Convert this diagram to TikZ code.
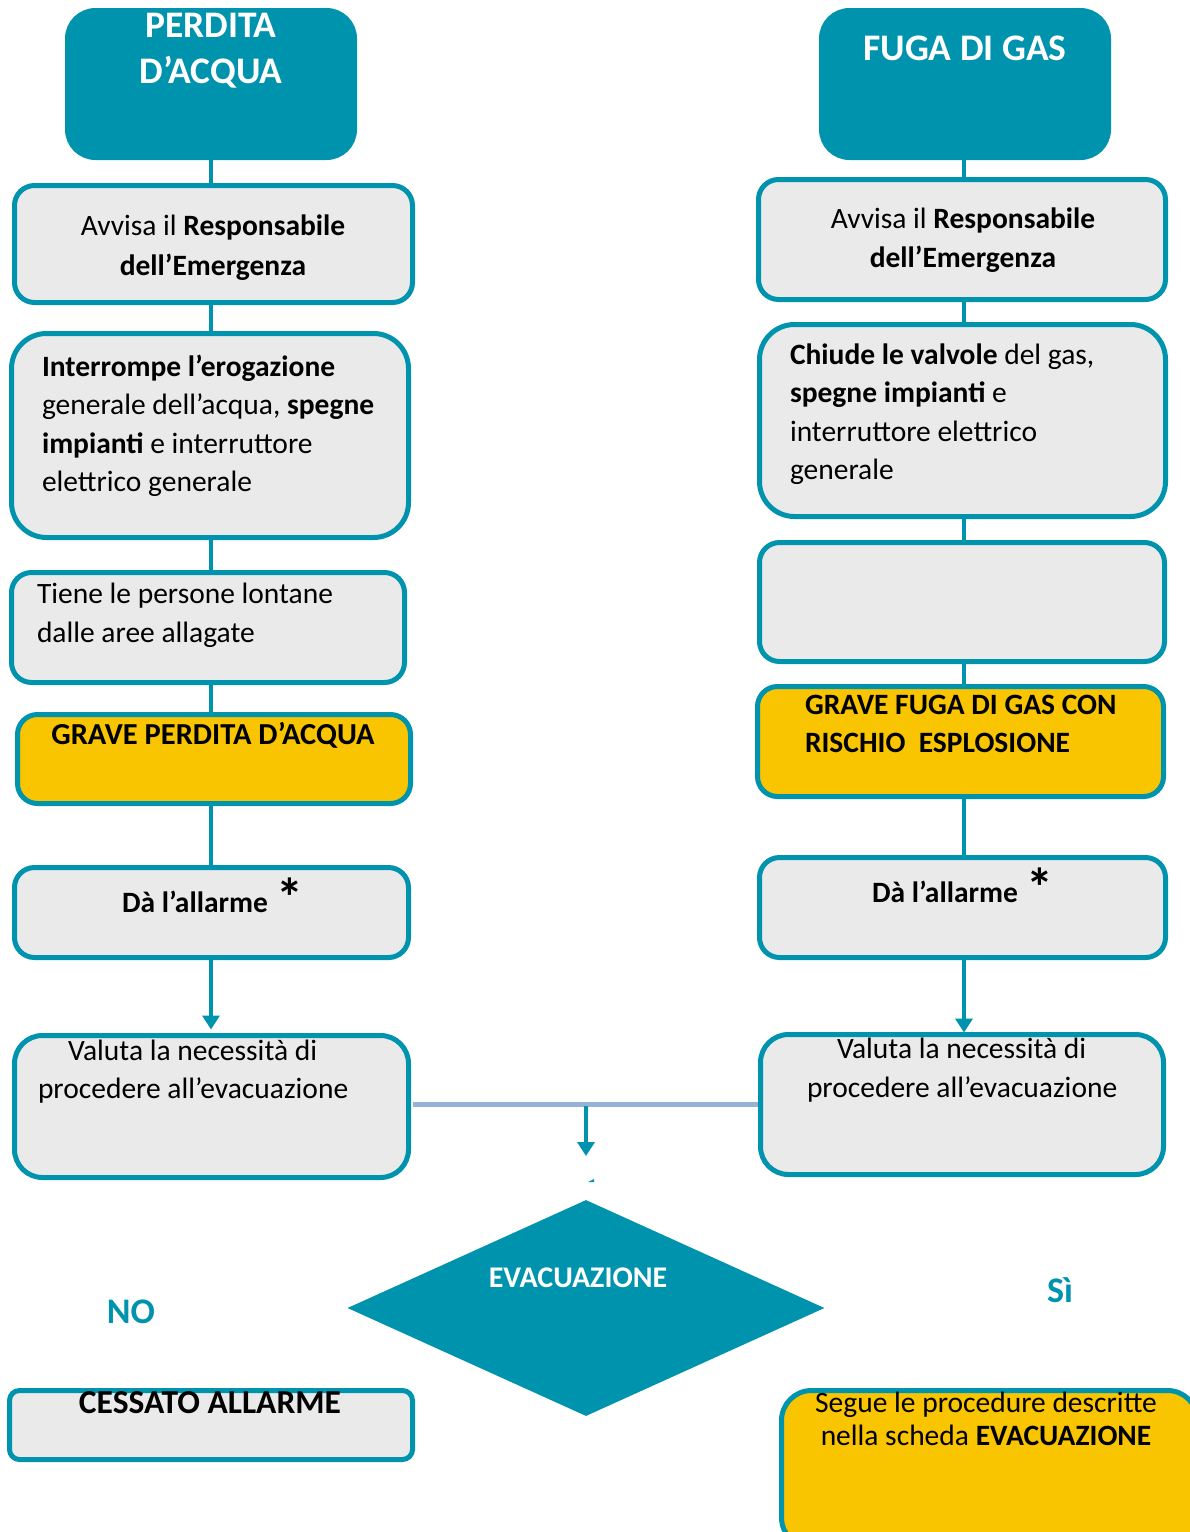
\documentclass[tikz,border=0pt]{standalone}
\usepackage{fontspec}
\setmainfont{Carlito}
\usetikzlibrary{arrows.meta,shapes.geometric}
\definecolor{teal1}{RGB}{0,147,174}
\definecolor{gray1}{RGB}{234,234,234}
\definecolor{yel}{RGB}{249,196,0}
\definecolor{lblue}{RGB}{149,179,215}
\tikzset{
  box/.style={draw=teal1, line width=5pt, fill=gray1, rounded corners=20pt, inner sep=0pt, outer sep=0pt, anchor=north west},
  ybox/.style={box, fill=yel},
  tbox/.style={box, fill=teal1, rounded corners=28pt},
  conn/.style={draw=teal1, line width=4pt},
  arr/.style={conn, -{Triangle[width=17pt,length=14pt]}},
  txt/.style={inner sep=0pt, outer sep=0pt, font=\fontsize{29.5}{34}\selectfont},
  btxt/.style={txt, font=\fontsize{29.5}{34}\selectfont\bfseries},
  ttl/.style={txt, text=white, font=\fontsize{37.5}{40}\selectfont\bfseries},
  star/.style={inner sep=0pt, outer sep=0pt, font=\fontsize{54}{54}\selectfont\bfseries},
  lbl/.style={txt, text=teal1, font=\fontsize{36}{40}\selectfont\bfseries},
}
\newcommand\bx[7][]{\node[#2, minimum width={#5-#3-5}, minimum height={#6-#4-5}, #1] (#7) at ({#3+2.5},{#4+2.5}) {};}
\begin{document}
\begin{tikzpicture}[x=1pt,y=-1pt]
\useasboundingbox (0,0) rectangle (1190,1532);
% ---------- left column boxes
\bx{tbox}{65}{8}{357}{160}{L0}
\bx{box}{12}{183}{415}{305}{L1}
\bx[rounded corners=35pt]{box}{9}{331}{411}{540}{L2}
\bx{box}{9}{570}{407}{685}{L3}
\bx{ybox}{15}{712}{413}{806}{L4}
\bx{box}{12}{865}{411}{960}{L5}
\bx[rounded corners=28pt]{box}{12}{1033}{411}{1180}{L6}
% ---------- right column boxes
\bx{tbox}{819}{8}{1111}{160}{R0}
\bx{box}{756}{177}{1168}{302}{R1}
\bx[rounded corners=35pt]{box}{757}{322}{1168}{519}{R2}
\bx{box}{757}{540}{1167}{664}{R3}
\bx{ybox}{755}{684}{1166}{799}{R4}
\bx{box}{757}{855}{1168}{960}{R5}
\bx[rounded corners=28pt]{box}{758}{1032}{1166}{1177}{R6}
% ---------- bottom boxes
\bx[rounded corners=10pt]{box}{7}{1388}{415}{1462}{CA}
\bx[rounded corners=30pt]{ybox}{779}{1388}{1200}{1550}{SE}
\node[diamond, fill=teal1, minimum width=477pt, minimum height=216pt, inner sep=0pt] (DIA) at (586,1308) {};
% ---------- connectors
\coordinate (lx) at (211,0);
\coordinate (rx) at (964,0);
\draw[conn] (lx |- L0.south) -- (lx |- L1.north);
\draw[conn] (lx |- L1.south) -- (lx |- L2.north);
\draw[conn] (lx |- L2.south) -- (lx |- L3.north);
\draw[conn] (lx |- L3.south) -- (lx |- L4.north);
\draw[conn] (lx |- L4.south) -- (lx |- L5.north);
\draw[arr] (lx |- L5.south) -- ([yshift=6pt]lx |- L6.north);
\draw[conn] (rx |- R0.south) -- (rx |- R1.north);
\draw[conn] (rx |- R1.south) -- (rx |- R2.north);
\draw[conn] (rx |- R2.south) -- (rx |- R3.north);
\draw[conn] (rx |- R3.south) -- (rx |- R4.north);
\draw[conn] (rx |- R4.south) -- (rx |- R5.north);
\draw[arr] (rx |- R5.south) -- ([yshift=2pt]rx |- R6.north);
\coordinate (hl) at (413,1104);
\coordinate (hr) at (758,1104);
\draw[lblue, line width=5pt] (hl) -- (hr);
\coordinate (ms) at (586,1106);
\coordinate (me) at (586,1156);
\draw[arr] (ms) -- (me);
\fill[teal1] (588,1182) -- (594,1179) -- (594,1182) -- cycle;
% ---------- texts
\node[ttl, anchor=base] (tA1) at (211,37) {PERDITA};
\node[ttl, anchor=base] (tA2) at (211,83) {D’ACQUA};
\node[ttl, anchor=base] (tB1) at (965,60) {FUGA DI GAS};
\node[txt, anchor=base] (a1) at (213,235) {Avvisa il \textbf{Responsabile}};
\node[btxt, anchor=base] (a2) at (213,275) {dell’Emergenza};
\node[txt, anchor=base] (b1) at (963,228) {Avvisa il \textbf{Responsabile}};
\node[btxt, anchor=base] (b2) at (963,267) {dell’Emergenza};
\node[txt, anchor=base west] (a3) at (42,376) {\textbf{Interrompe l’erogazione}};
\node[txt, anchor=base west] (a4) at (42,414) {generale dell’acqua, \textbf{spegne}};
\node[txt, anchor=base west] (a5) at (42,453) {\textbf{impianti} e interruttore};
\node[txt, anchor=base west] (a6) at (42,491) {elettrico generale};
\node[txt, anchor=base west] (b3) at (790,364) {\textbf{Chiude le valvole} del gas,};
\node[txt, anchor=base west] (b4) at (790,402) {\textbf{spegne impianti} e};
\node[txt, anchor=base west] (b5) at (790,441) {interruttore elettrico};
\node[txt, anchor=base west] (b6) at (790,479) {generale};
\node[txt, anchor=base west] (a7) at (37,603) {Tiene le persone lontane};
\node[txt, anchor=base west] (a8) at (37,642) {dalle aree allagate};
\node[btxt, anchor=base, font=\fontsize{30.5}{34}\selectfont\bfseries] (a9) at (213,744) {GRAVE PERDITA D’ACQUA};
\node[btxt, anchor=base west] (b7) at (805,714) {GRAVE FUGA DI GAS CON};
\node[btxt, anchor=base west] (b8) at (805,752) {RISCHIO\ \ ESPLOSIONE};
\node[btxt, anchor=base] (a10) at (195,912) {Dà l’allarme};
\node[star, anchor=base] (s1) at (290,916) {*};
\node[btxt, anchor=base] (b9) at (945,902) {Dà l’allarme};
\node[star, anchor=base] (s2) at (1040,906) {*};
\node[txt, anchor=base west] (a11) at (68,1060) {Valuta la necessità di};
\node[txt, anchor=base west] (a12) at (38,1098) {procedere all’evacuazione};
\node[txt, anchor=base west] (b10) at (837,1058) {Valuta la necessità di};
\node[txt, anchor=base west] (b11) at (807,1097) {procedere all’evacuazione};
\node[txt, anchor=base, text=white, font=\fontsize{30}{34}\selectfont\bfseries] (ev) at (578,1287) {EVACUAZIONE};
\node[lbl, anchor=base] (no) at (131,1323) {NO};
\node[lbl, anchor=base] (si) at (1060,1302) {Sì};
\node[txt, anchor=base, font=\fontsize{33.5}{36}\selectfont\bfseries] (ca) at (210,1413) {CESSATO ALLARME};
\node[txt, anchor=base] (se1) at (986,1412) {Segue le procedure descritte};
\node[txt, anchor=base] (se2) at (986,1445) {nella scheda \textbf{EVACUAZIONE}};
\end{tikzpicture}
\end{document}
